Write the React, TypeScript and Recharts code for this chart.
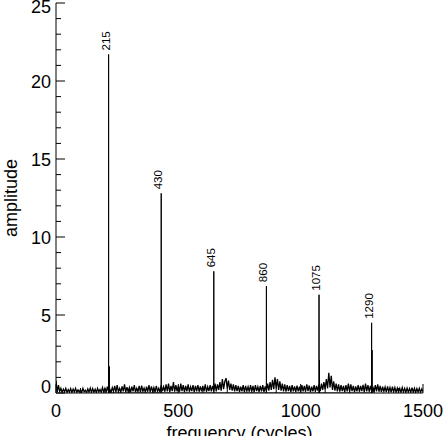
import { LineChart, Line, XAxis, YAxis, LabelList, Label } from 'recharts';

const FONT = '"Liberation Sans", Arial, Helvetica, sans-serif';

// axis ticks (minor every 100 / 1, labelled every 500 / 5)
const X_TICKS = [0, 100, 200, 300, 400, 500, 600, 700, 800, 900, 1000, 1100, 1200, 1300, 1400, 1500];
const Y_TICKS = [0, 1, 2, 3, 4, 5, 6, 7, 8, 9, 10, 11, 12, 13, 14, 15, 16, 17, 18, 19, 20, 21, 22, 23, 24, 25];

// noise floor, one reading every 5 cycles from 0 to 1500
const NOISE_STEP = 5;
const noiseAmps = [
  0.8, 0.05, 0.5, 0.1, 0.3, 0.04, 0.25, 0.08, 0.3, 0.03, 0.22, 0.06, 0.28, 0.02, 0.25, 0.07, 0.3, 0.04, 0.2, 0.06,
  0.22, 0.03, 0.3, 0.08, 0.18, 0.02, 0.26, 0.06, 0.32, 0.04, 0.28, 0.05, 0.24, 0.03, 0.3, 0.07, 0.22, 0.04, 0.35, 0.06,
  0.3, 0.05, 0.4, 0.08, 0.25, 0.04, 0.35, 0.1, 0.45, 0.06, 0.5, 0.08, 0.3, 0.05, 0.42, 0.1, 0.55, 0.06, 0.38, 0.08,
  0.35, 0.05, 0.4, 0.1, 0.5, 0.06, 0.3, 0.08, 0.45, 0.04, 0.48, 0.1, 0.32, 0.06, 0.4, 0.08, 0.5, 0.05, 0.42, 0.1,
  0.35, 0.06, 0.45, 0.1, 0.3, 0.05, 0.5, 0.12, 0.4, 0.08, 0.55, 0.1, 0.6, 0.06, 0.45, 0.12, 0.7, 0.08, 0.5, 0.1,
  0.45, 0.08, 0.6, 0.12, 0.5, 0.06, 0.45, 0.1, 0.55, 0.08, 0.4, 0.12, 0.5, 0.06, 0.45, 0.1, 0.5, 0.08, 0.42, 0.1,
  0.45, 0.1, 0.55, 0.08, 0.4, 0.12, 0.5, 0.1, 0.45, 0.15, 0.6, 0.1, 0.55, 0.2, 0.7, 0.15, 0.9, 0.25, 0.75, 0.95,
  0.3, 0.8, 0.2, 0.6, 0.15, 0.55, 0.1, 0.5, 0.12, 0.45, 0.08, 0.4, 0.1, 0.5, 0.06, 0.45, 0.12, 0.4, 0.08, 0.5,
  0.1, 0.45, 0.06, 0.5, 0.12, 0.4, 0.08, 0.45, 0.1, 0.5, 0.06, 0.42, 0.12, 0.6, 0.15, 0.7, 0.2, 0.85, 0.25, 1.0,
  0.3, 0.9, 0.2, 0.75, 0.15, 0.6, 0.1, 0.55, 0.08, 0.5, 0.12, 0.45, 0.06, 0.5, 0.1, 0.42, 0.08, 0.48, 0.1, 0.4,
  0.06, 0.5, 0.1, 0.45, 0.08, 0.55, 0.12, 0.48, 0.06, 0.4, 0.1, 0.5, 0.08, 0.45, 0.15, 0.55, 0.12, 0.6, 0.2, 0.7,
  0.25, 0.9, 0.3, 1.3, 0.35, 1.1, 0.2, 0.75, 0.15, 0.6, 0.1, 0.55, 0.08, 0.5, 0.12, 0.45, 0.06, 0.5, 0.1, 0.6,
  0.08, 0.55, 0.12, 0.45, 0.06, 0.42, 0.1, 0.5, 0.08, 0.45, 0.12, 0.52, 0.06, 0.6, 0.1, 0.5, 0.08, 0.45, 0.12, 0.4,
  0.06, 0.5, 0.1, 0.55, 0.08, 0.45, 0.06, 0.4, 0.1, 0.38, 0.05, 0.42, 0.08, 0.35, 0.04, 0.4, 0.07, 0.35, 0.05, 0.32,
  0.06, 0.3, 0.04, 0.35, 0.07, 0.3, 0.03, 0.32, 0.06, 0.28, 0.04, 0.35, 0.05, 0.3, 0.03, 0.28, 0.06, 0.3, 0.04, 0.26,
  0.1,
];

// harmonic peaks (labelled)
const peakFreqs = [215, 430, 645, 860, 1075, 1290];
const peakAmps = [21.7, 12.8, 7.8, 6.85, 6.3, 4.5];

// small unlabelled spikes next to some peaks
const sideFreqs = [218, 1077, 1292];
const sideAmps = [1.7, 2.1, 2.75];

const noiseData = noiseAmps.map((a, i) => ({ f: i * NOISE_STEP, a }));

const spikes = [
  ...peakFreqs.map((f, i) => ({ f, a: peakAmps[i], tag: String(f) })),
  ...sideFreqs.map((f, i) => ({ f, a: sideAmps[i], tag: '' })),
].sort((p, q) => p.f - q.f);

const spikeData = spikes.flatMap((s) => [
  { f: s.f, a: 0, tag: '' },
  { f: s.f, a: s.a, tag: s.tag },
  { f: s.f, a: 0, tag: '' },
]);

const BottomTick = (props: any) => {
  const { x, y, payload } = props;
  const major = payload.value % 500 === 0;
  return (
    <g>
      <line x1={x} y1={y} x2={x} y2={y - (major ? 9 : 5)} stroke="#000" />
      {major && (
        <text x={x} y={y + 24} textAnchor="middle" fontSize={18} fill="#000" fontFamily={FONT}>
          {payload.value}
        </text>
      )}
    </g>
  );
};

const TopTick = (props: any) => {
  const { x, y, payload } = props;
  const major = payload.value % 500 === 0;
  return <line x1={x} y1={y} x2={x} y2={y + (major ? 9 : 5)} stroke="#000" />;
};

const LeftTick = (props: any) => {
  const { x, y, payload } = props;
  const major = payload.value % 5 === 0;
  // the end labels are nudged inward in the original
  const dy = payload.value === 0 ? -0.5 : payload.value === 25 ? 10 : 6.5;
  return (
    <g>
      <line x1={x} y1={y} x2={x + (major ? 9 : 5)} y2={y} stroke="#000" />
      {major && (
        <text x={x - 5} y={y + dy} textAnchor="end" fontSize={18} fill="#000" fontFamily={FONT}>
          {payload.value}
        </text>
      )}
    </g>
  );
};

const RightTick = (props: any) => {
  const { x, y, payload } = props;
  const major = payload.value % 5 === 0;
  return <line x1={x} y1={y} x2={x - (major ? 9 : 5)} y2={y} stroke="#000" />;
};

const PeakLabel = (props: any) => {
  const { x, y, value } = props;
  if (!value) return null;
  const tx = x + 1;
  const ty = y - 4;
  return (
    <text
      x={tx}
      y={ty}
      transform={`rotate(-90, ${tx}, ${ty})`}
      textAnchor="start"
      fontSize={11.5}
      fill="#000"
      fontFamily={FONT}
    >
      {value}
    </text>
  );
};

const YTitle = (props: any) => {
  const { viewBox } = props;
  const tx = viewBox.x + 17;
  const ty = viewBox.y + viewBox.height / 2;
  return (
    <text
      x={tx}
      y={ty}
      transform={`rotate(-90, ${tx}, ${ty})`}
      textAnchor="middle"
      fontSize={18}
      fill="#000"
      fontFamily={FONT}
    >
      amplitude
    </text>
  );
};

export default function App() {
  return (
    <div style={{ position: 'absolute', left: 0, top: 0, background: '#fff', fontFamily: FONT }}>
      <LineChart width={445} height={436} margin={{ top: 3, right: 22, bottom: 0, left: 0 }}>
        <XAxis
          xAxisId="b"
          dataKey="f"
          type="number"
          domain={[0, 1500]}
          allowDataOverflow
          ticks={X_TICKS}
          interval={0}
          orientation="bottom"
          height={43}
          tickSize={0}
          tickMargin={0}
          tickLine={false}
          tick={<BottomTick />}
          axisLine={{ stroke: '#000' }}
        >
          <Label
            value="frequency (cycles)"
            position="insideBottom"
            offset={-3}
            fontSize={18}
            fill="#000"
            fontFamily={FONT}
          />
        </XAxis>
        <XAxis
          xAxisId="t"
          dataKey="f"
          type="number"
          domain={[0, 1500]}
          allowDataOverflow
          ticks={X_TICKS}
          interval={0}
          orientation="top"
          height={0}
          tickSize={0}
          tickMargin={0}
          tickLine={false}
          tick={<TopTick />}
          axisLine={{ stroke: '#000' }}
        />
        <YAxis
          yAxisId="l"
          type="number"
          domain={[0, 25]}
          allowDataOverflow
          ticks={Y_TICKS}
          interval={0}
          orientation="left"
          width={56}
          tickSize={0}
          tickMargin={0}
          tickLine={false}
          tick={<LeftTick />}
          axisLine={{ stroke: '#000' }}
        >
          <Label content={<YTitle />} />
        </YAxis>
        <YAxis
          yAxisId="r"
          type="number"
          domain={[0, 25]}
          allowDataOverflow
          ticks={Y_TICKS}
          interval={0}
          orientation="right"
          width={0}
          tickSize={0}
          tickMargin={0}
          tickLine={false}
          tick={<RightTick />}
          axisLine={{ stroke: '#000' }}
        />
        <Line
          xAxisId="b"
          yAxisId="l"
          data={noiseData}
          dataKey="a"
          type="linear"
          stroke="#000"
          strokeWidth={1.3}
          dot={false}
          activeDot={false}
          isAnimationActive={false}
        />
        <Line
          xAxisId="b"
          yAxisId="l"
          data={spikeData}
          dataKey="a"
          type="linear"
          stroke="#000"
          strokeWidth={1}
          dot={false}
          activeDot={false}
          isAnimationActive={false}
        >
          <LabelList dataKey="tag" content={<PeakLabel />} />
        </Line>
      </LineChart>
    </div>
  );
}
